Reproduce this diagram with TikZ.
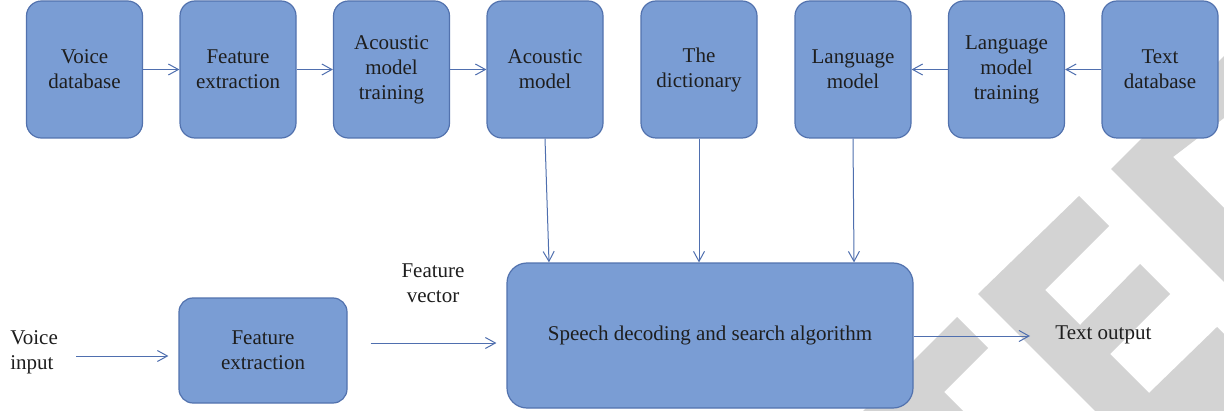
\documentclass[tikz,border=0pt]{standalone}
\usepackage{fontspec}
\setmainfont{Liberation Serif}
\usetikzlibrary{arrows.meta}
\definecolor{boxfill}{HTML}{7A9DD4}
\definecolor{boxline}{HTML}{5272AE}
\definecolor{arrline}{HTML}{4F6FAF}
\definecolor{wm}{HTML}{D3D3D3}
\definecolor{txt}{HTML}{1E1E1E}
\begin{document}
\begin{tikzpicture}[x=0.5pt,y=-0.5pt,
  box/.style={draw=boxline,line width=0.6pt,fill=boxfill,rounded corners=7.5pt,
    minimum width=58pt,minimum height=68.5pt,inner sep=0pt,align=center,text=txt,
    font=\fontsize{10.5}{12.5}\selectfont},
  lbl/.style={inner sep=0pt,align=center,text=txt,font=\fontsize{10.5}{12.5}\selectfont},
  arr/.style={draw=arrline,line width=0.5pt,-{Straight Barb[length=5pt,width=5.5pt]}},
  wmark/.style={fill=wm,draw=none}]
\useasboundingbox (0,0) rectangle (1224,411);
\fill[white] (0,0) rectangle (1224,411);
% watermark
\fill[wmark] (957,317) -- (988,348) -- (944,392) -- (963,411) -- (863,411) -- cycle;
\fill[wmark] (978,294) -- (1079,196) -- (1109,226) -- (1045,290) -- (1080,325) -- (1140,264)
  -- (1170,294) -- (1110,354) -- (1149,393) -- (1217,327) -- (1224,334) -- (1224,411) -- (1095,411) -- cycle;
\fill[wmark] (1111,169) -- (1224,56) -- (1224,118) -- (1173,157) -- (1224,208) -- (1224,282) -- cycle;
% top row
\node[box] (vd) at (84.5,69.5) {Voice\\database};
\node[box] (fe) at (238,69.5) {Feature\\extraction};
\node[box] (amt) at (391.5,69.5) {Acoustic\\model\\training};
\node[box] (am) at (545,69.5) {Acoustic\\model};
\node[box] (dic) at (699,69.5) {The\\dictionary};
\node[box] (lm) at (853,69.5) {Language\\model};
\node[box] (lmt) at (1006.5,69.5) {Language\\model\\training};
\node[box] (td) at (1160,69.5) {Text\\database};
% bottom row
\node[box,minimum width=203pt,minimum height=72.5pt,rounded corners=10pt] (sd) at (710,335.5)
  {Speech decoding and search algorithm};
\node[box,minimum width=84pt,minimum height=52.5pt,rounded corners=7pt] (fe2) at (263,350.5)
  {Feature\\extraction};
\node[lbl,align=left,anchor=west] (vi) at (10,352) {Voice\\input};
\node[lbl] (fv) at (433,283) {Feature\\vector};
\node[lbl,anchor=west] (to) at (1055,335) {Text output};
% connectors
\draw[arr] (vd) -- (fe);
\draw[arr] (fe) -- (amt);
\draw[arr] (amt) -- (am);
\draw[arr] (td) -- (lmt);
\draw[arr] (lmt) -- (lm);
\draw[arr] (am.south) -- ([xshift=2pt]am.south |- sd.north);
\draw[arr] (dic.south) -- (dic.south |- sd.north);
\draw[arr] (lm.south) -- ([xshift=0.5pt]lm.south |- sd.north);
\draw[arr,shorten <=9pt,shorten >=5pt] (vi.east |- 0,356) -- (fe2.west |- 0,356);
\draw[arr,shorten <=11.5pt,shorten >=5pt] (fe2.east |- 0,343) -- (sd.west |- 0,343);
\draw[arr,shorten >=12.5pt] (sd.east |- 0,336) -- (to.west |- 0,336);
\end{tikzpicture}
\end{document}
